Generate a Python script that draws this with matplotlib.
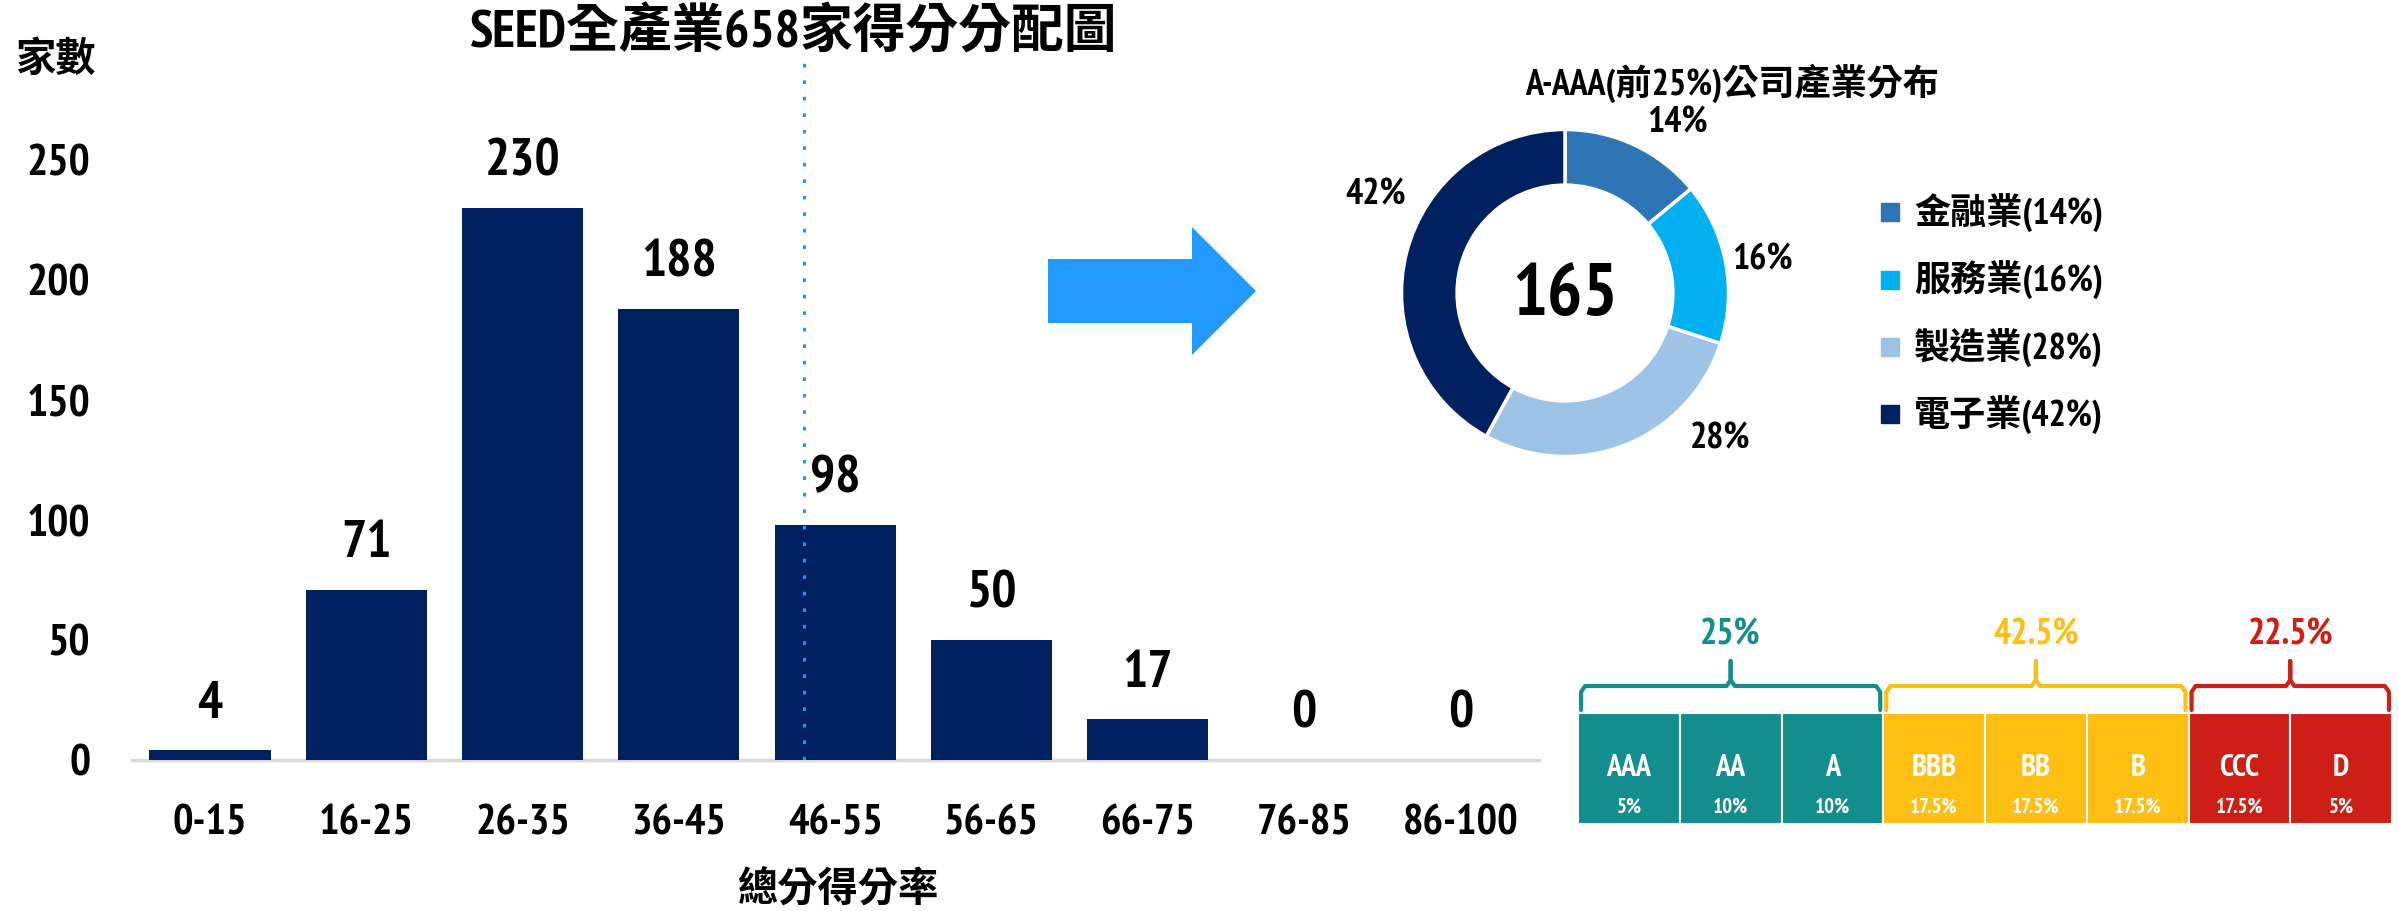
import matplotlib
matplotlib.use('Agg')
import matplotlib.pyplot as plt
from matplotlib import font_manager
from matplotlib.font_manager import FontProperties
from matplotlib.lines import Line2D
from matplotlib.patches import Polygon
import numpy as np

# ---- data ----
score_bins = ['0-15', '16-25', '26-35', '36-45', '46-55', '56-65', '66-75', '76-85', '86-100']
company_counts = [4, 71, 230, 188, 98, 50, 17, 0, 0]
count_ticks = [0, 50, 100, 150, 200, 250]
marker_pos = 3.8  # dotted line, just left of the 46-55 bar centre

industries = ['金融業', '服務業', '製造業', '電子業']
industry_share = [14, 16, 28, 42]
top_total = 165

grades = ['AAA', 'AA', 'A', 'BBB', 'BB', 'B', 'CCC', 'D']
grade_share = ['5%', '10%', '10%', '17.5%', '17.5%', '17.5%', '17.5%', '5%']
grade_group = [0, 0, 0, 1, 1, 1, 2, 2]
group_labels = ['25%', '42.5%', '22.5%']

# ---- styles ----
navy = '#002060'
pie_colors = ['#2E75B6', '#00B0F0', '#9DC3E6', '#002060']
group_colors = ['#138D8D', '#FDBF12', '#CD1F16']

# narrow latin font for the digits, CJK falls back to Noto
names = {f.name for f in font_manager.fontManager.ttflist}
k = 0.85
FAM = ['Noto Sans CJK TC', 'DejaVu Sans']
for nm, scale in [('PT Sans Narrow', 1.0), ('Roboto Condensed', 0.92)]:
    if nm in names:
        FAM = [nm] + FAM
        k = scale
        break
plt.rcParams['font.family'] = FAM
plt.rcParams['font.weight'] = 'bold'

W, H = 2399, 911


def fx(px):
    return px / W


def fy(py):
    return 1 - py / H


fig = plt.figure(figsize=(W / 100, H / 100), dpi=100)

# ---- bar chart ----
unit = 156.3          # px per bin
left_px = 210 - 0.5 * unit
ytop = 293
ax = fig.add_axes([fx(left_px), fy(760), 9 * unit / W, ytop * 2.4 / H])
x = np.arange(len(score_bins))
ax.bar(x, company_counts, width=0.775, color=navy, zorder=3)
for xi, v in zip(x, company_counts):
    ax.annotate(str(v), (xi, v), xytext=(0, 23.5), textcoords='offset points',
                ha='center', va='baseline', fontsize=38 * k, fontweight='bold')
ax.axvline(marker_pos, color='#1E96FF', lw=2.2, linestyle=(0, (1.2, 4.2)), zorder=4)
ax.set_xlim(-0.5, 8.5)
ax.set_ylim(0, ytop)
ax.set_yticks(count_ticks)
ax.set_xticks(x, score_bins)
ax.tick_params(axis='y', length=0, pad=30, labelsize=32 * k)
ax.tick_params(axis='x', length=0, pad=32, labelsize=31 * k)
for s in ['top', 'right', 'left']:
    ax.spines[s].set_visible(False)
ax.spines['bottom'].set_color('#D9D9D9')
ax.spines['bottom'].set_linewidth(2.5)
ax.set_xlabel('總分得分率', fontsize=29, fontweight='bold')
ax.xaxis.set_label_coords(0.502, -0.185)
ax.xaxis.label.set_va('center')

fig.text(fx(55), fy(60), '家數', fontsize=29, fontweight='bold', ha='center', va='center')
fig.text(fx(794), fy(33), 'SEED全產業658家得分分配圖', fontsize=38, fontweight='bold',
         ha='center', va='center')

# ---- arrow ----
arrow_pts = [(1048, 259), (1192, 259), (1192, 227), (1256, 291),
             (1192, 355), (1192, 323), (1048, 323)]
fig.add_artist(Polygon([(fx(a), fy(b)) for a, b in arrow_pts], closed=True,
                       transform=fig.transFigure, color='#2299FF', lw=0))

# ---- donut ----
r_px = 163.5
half = 220
L = half / r_px
axd = fig.add_axes([fx(1565 - half), fy(293 + half), 2 * half / W, 2 * half / H])
axd.pie(industry_share, colors=pie_colors, startangle=90, counterclock=False,
        wedgeprops=dict(width=0.34, edgecolor='white', linewidth=2.5))
axd.set_xlim(-L, L)
axd.set_ylim(-L, L)
axd.axis('off')
label_xy = [(0.69, 1.04), (1.21, 0.20), (0.95, -0.89), (-1.16, 0.60)]
for (lx, ly), v in zip(label_xy, industry_share):
    axd.text(lx, ly, f'{v}%', ha='center', va='center', fontsize=26 * k, fontweight='bold')
axd.text(0, -0.02, str(top_total), ha='center', va='center', fontsize=53 * k, fontweight='bold')
fig.text(fx(1732), fy(83), 'A-AAA(前25%)公司產業分布', fontsize=26, fontweight='bold',
         ha='center', va='center')

handles = [Line2D([], [], marker='s', ls='', markersize=13.5, color=c) for c in pie_colors]
labels = [f'{n}({v}%)' for n, v in zip(industries, industry_share)]
fig.legend(handles, labels, loc='center left', bbox_to_anchor=(fx(1877), fy(314.5)),
           frameon=False, prop=FontProperties(family=FAM, weight='bold', size=26),
           handlelength=0.74, handletextpad=0.29, labelspacing=0.78,
           borderpad=0, borderaxespad=0)

# ---- rating strip ----
axr = fig.add_axes([fx(1578), fy(830), 814 / W, 230 / H])
axr.set_xlim(-0.5, 7.5)
axr.set_ylim(0, 230)
axr.axis('off')
gx = np.arange(len(grades))
axr.bar(gx, 111, bottom=6, width=1, color=[group_colors[g] for g in grade_group],
        edgecolor='white', linewidth=1.5)
for i in gx:
    axr.text(i, 62, grades[i], ha='center', va='center', color='white',
             fontsize=22 * k, fontweight='bold')
    axr.text(i, 23, grade_share[i], ha='center', va='center', color='white',
             fontsize=15 * k, fontweight='bold')
for g, lab in enumerate(group_labels):
    idx = [i for i in gx if grade_group[i] == g]
    x0, x1 = min(idx) - 0.47, max(idx) + 0.47
    xm = (min(idx) + max(idx)) / 2
    c = group_colors[g]
    for a, b in [(x0, xm), (x1, xm)]:
        d = 0.04 if b > a else -0.04
        axr.plot([a, a, a + d, b - d, b, b], [120, 138, 144, 144, 150, 169],
                 color=c, lw=3, solid_joinstyle='round', solid_capstyle='round')
    axr.text(xm, 195, lab, ha='center', va='center', color=c,
             fontsize=26 * k, fontweight='bold')

fig.savefig('out.png', dpi=100)
